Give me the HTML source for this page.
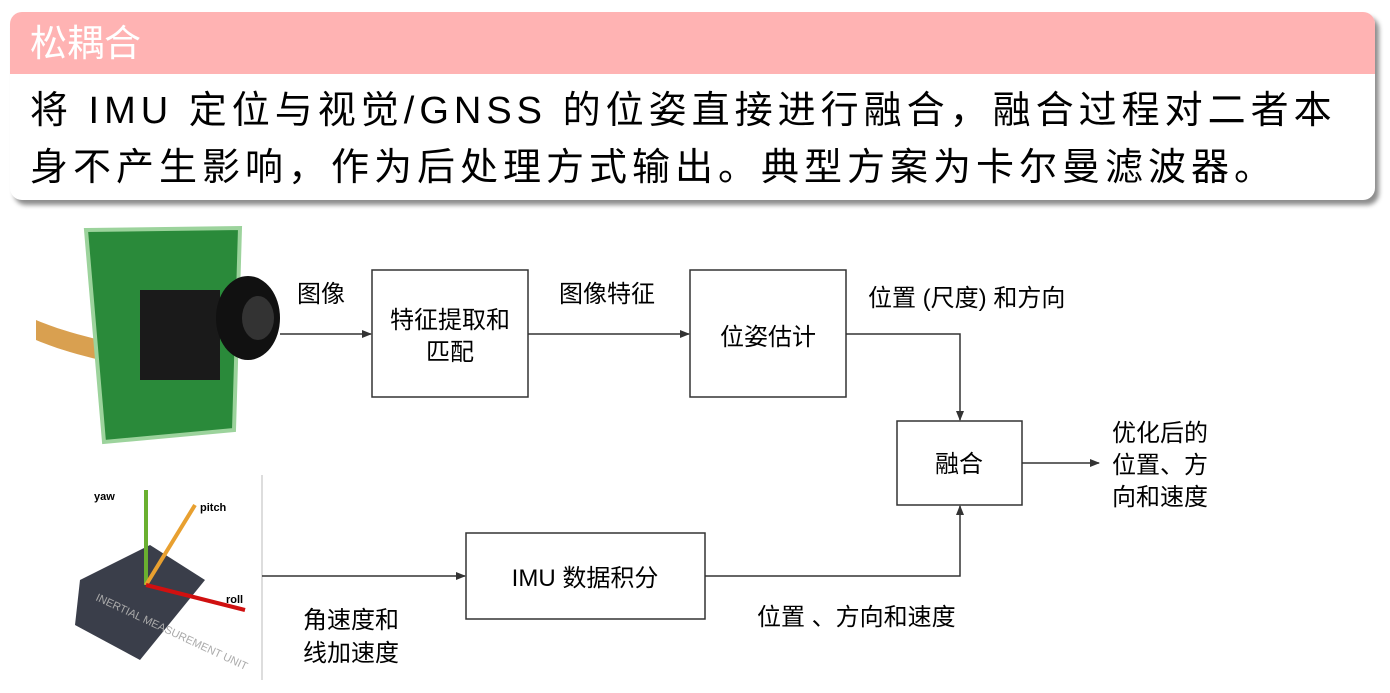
<!DOCTYPE html><html><head><meta charset="utf-8"><style>
body{margin:0;width:1390px;height:693px;background:#fff;overflow:hidden;font-family:"Liberation Sans","Noto Sans CJK SC",sans-serif;position:relative}
.card{position:absolute;left:10px;top:12px;width:1365px;height:188px;border-radius:12px;background:#fff;box-shadow:4px 5px 5px rgba(0,0,0,.45);overflow:hidden}
.hd{height:62px;background:#ffb3b3;color:#fff;font-size:37px;line-height:64px;padding-left:20px}
.bd{font-size:38px;line-height:57px;padding:9px 0 0 20px;color:#000;letter-spacing:5px;white-space:nowrap}
</style></head><body>
<div class="card"><div class="hd">松耦合</div><div class="bd">将 IMU 定位与视觉/GNSS 的位姿直接进行融合，融合过程对二者本<br>身不产生影响，作为后处理方式输出。典型方案为卡尔曼滤波器。</div></div>
<svg width="1390" height="693" style="position:absolute;left:0;top:0" font-family="Liberation Sans, Noto Sans CJK SC, sans-serif" font-size="24">
<defs><marker id="a" markerWidth="10" markerHeight="10" refX="9" refY="5" orient="auto" markerUnits="userSpaceOnUse"><path d="M0,1 L10,5 L0,9z" fill="#333"/></marker></defs>
<g>
<path d="M36,320 C60,330 80,335 100,340 L100,360 C80,355 60,350 36,340z" fill="#d9a050"/>
<path d="M86,230 L240,228 L234,430 L104,442z" fill="#2a8a3a" stroke="#9cd39c" stroke-width="4"/>
<rect x="140" y="290" width="80" height="90" fill="#1a1a1a"/>
<ellipse cx="248" cy="318" rx="32" ry="42" fill="#111"/>
<ellipse cx="258" cy="318" rx="16" ry="22" fill="#333"/>
</g>
<g>
<path d="M80,580 L150,545 L205,580 L140,660 L75,625z" fill="#3a3e4a"/>
<text x="95" y="600" font-size="11" fill="#aaa" transform="rotate(25 95 600)">INERTIAL MEASUREMENT UNIT</text>
<line x1="146" y1="585" x2="146" y2="490" stroke="#6ab030" stroke-width="4"/>
<line x1="146" y1="585" x2="195" y2="505" stroke="#e8a030" stroke-width="4"/>
<line x1="146" y1="585" x2="245" y2="610" stroke="#d01010" stroke-width="4"/>
<text x="94" y="500" font-size="11" font-weight="bold">yaw</text>
<text x="200" y="511" font-size="11" font-weight="bold">pitch</text>
<text x="226" y="603" font-size="11" font-weight="bold">roll</text>
</g>
<line x1="262" y1="475" x2="262" y2="680" stroke="#bbb"/>
<g fill="none" stroke="#333" stroke-width="1.5">
<rect x="372" y="270" width="156" height="127"/>
<rect x="690" y="270" width="156" height="127"/>
<rect x="897" y="421" width="125" height="84"/>
<rect x="466" y="533" width="239" height="86"/>
<line x1="280" y1="334" x2="371" y2="334" marker-end="url(#a)"/>
<line x1="528" y1="334" x2="689" y2="334" marker-end="url(#a)"/>
<polyline points="846,334 960,334 960,420" marker-end="url(#a)"/>
<line x1="1022" y1="463" x2="1099" y2="463" marker-end="url(#a)"/>
<line x1="262" y1="576" x2="465" y2="576" marker-end="url(#a)"/>
<polyline points="705,576 960,576 960,506" marker-end="url(#a)"/>
</g>
<g fill="#000">
<text x="297" y="302">图像</text>
<text x="450" y="328" text-anchor="middle">特征提取和</text>
<text x="450" y="360" text-anchor="middle">匹配</text>
<text x="559" y="302">图像特征</text>
<text x="768" y="345" text-anchor="middle">位姿估计</text>
<text x="868" y="306">位置 (尺度) 和方向</text>
<text x="959" y="472" text-anchor="middle">融合</text>
<text x="1112" y="441">优化后的</text>
<text x="1112" y="473">位置、方</text>
<text x="1112" y="505">向和速度</text>
<text x="585" y="586" text-anchor="middle">IMU 数据积分</text>
<text x="303" y="628">角速度和</text>
<text x="303" y="661">线加速度</text>
<text x="757" y="625">位置 、方向和速度</text>
</g>
</svg>
</body></html>
